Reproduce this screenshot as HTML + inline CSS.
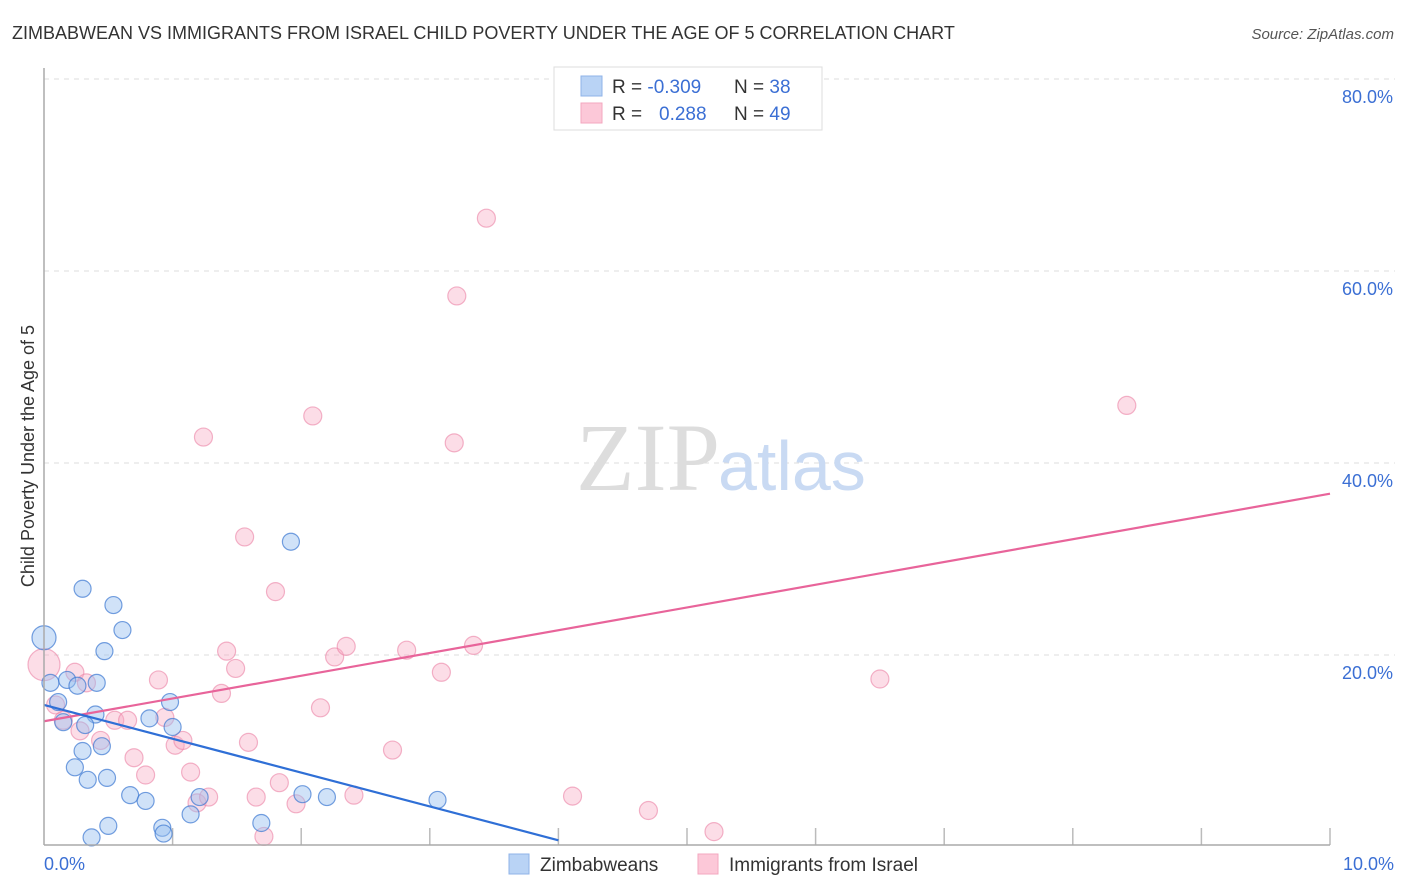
<!DOCTYPE html>
<html><head><meta charset="utf-8"><style>
body{margin:0;background:#fff;font-family:"Liberation Sans",sans-serif;}
svg{display:block}
</style></head><body>
<svg width="1406" height="892" xmlns="http://www.w3.org/2000/svg">
<text x="12" y="39" font-size="18" fill="#333">ZIMBABWEAN VS IMMIGRANTS FROM ISRAEL CHILD POVERTY UNDER THE AGE OF 5 CORRELATION CHART</text>
<text x="1394" y="39" font-size="15" fill="#555" text-anchor="end" font-style="italic">Source: ZipAtlas.com</text>
<text x="34" y="456" font-size="18" fill="#333" text-anchor="middle" transform="rotate(-90 34 456)">Child Poverty Under the Age of 5</text>
<g id="grid"></g>
<text x="720" y="490" font-size="96" fill="#ddd" text-anchor="end" font-family="Liberation Serif">ZIP</text>
<text x="718" y="490" font-size="70" fill="#c9daf3">atlas</text>
<g id="pts"></g>
<g id="lines"></g>
<line x1="44" y1="845" x2="1330" y2="845" stroke="#aaa" stroke-width="1.5"/>
<line x1="44" y1="68" x2="44" y2="845" stroke="#aaa" stroke-width="1.5"/>
<text x="44" y="870" font-size="18" fill="#3b6fd4">0.0%</text>
<text x="1394" y="870" font-size="18" fill="#3b6fd4" text-anchor="end">10.0%</text>
<g>
<rect x="554" y="67" width="268" height="63" fill="#fff" stroke="#ddd"/>
<rect x="581" y="76" width="21" height="20" fill="#b9d3f5" stroke="#8fb3e8"/>
<rect x="581" y="103" width="21" height="20" fill="#fcc8d8" stroke="#f3a7bf"/>
<text x="612" y="93" font-size="19" fill="#333">R = <tspan fill="#3b6fd4">-0.309</tspan></text>
<text x="734" y="93" font-size="19" fill="#333">N = <tspan fill="#3b6fd4">38</tspan></text>
<text x="612" y="120" font-size="19" fill="#333">R = <tspan fill="#3b6fd4" x="659">0.288</tspan></text>
<text x="734" y="120" font-size="19" fill="#333">N = <tspan fill="#3b6fd4">49</tspan></text>
</g>
<g>
<rect x="509" y="854" width="20" height="20" fill="#b9d3f5" stroke="#8fb3e8"/>
<text x="540" y="871" font-size="19" fill="#333">Zimbabweans</text>
<rect x="698" y="854" width="20" height="20" fill="#fcc8d8" stroke="#f3a7bf"/>
<text x="729" y="871" font-size="19" fill="#333">Immigrants from Israel</text>
</g>
</svg>
<script>
const yTicks=[20,40,60,80];
const yTickLabels=["20.0%","40.0%","60.0%","80.0%"];
const xTicks=[1,2,3,4,5,6,7,8,9,10];
const blueX=[0.30,0.54,0.61,0.47,0,0.05,0.18,0.26,0.41,0.11,0.15,0.40,0.32,0.30,0.45,0.24,0.34,0.49,0.67,0.79,0.98,1.00,0.82,1.21,1.14,0.92,0.93,0.50,0.37,1.69,2.01,2.20,1.92,3.06];
const blueY=[26.9,25.2,22.6,20.4,21.8,17.1,17.4,16.8,17.1,15.1,13.0,13.8,12.7,10.0,10.5,8.3,7.0,7.2,5.4,4.8,15.1,12.5,13.4,5.2,3.4,2.0,1.4,2.2,1.0,2.5,5.5,5.2,31.8,4.9];
const pinkX=[0,0.24,0.09,0.33,0.15,0.28,0.44,0.55,0.65,0.70,0.79,0.89,0.94,1.02,1.08,1.14,1.19,1.28,1.24,1.38,1.42,1.49,1.56,1.59,1.65,1.71,1.80,1.83,1.96,2.09,2.15,2.26,2.35,2.41,2.71,2.82,3.09,3.19,3.21,3.34,3.44,4.11,4.70,5.21,6.50,8.42];
const pinkY=[19.0,18.2,14.8,17.1,13.2,12.1,11.1,13.2,13.2,9.3,7.5,17.4,13.5,10.6,11.1,7.8,4.6,5.2,42.7,16.0,20.4,18.6,32.3,10.9,5.2,1.1,26.6,6.7,4.5,44.9,14.5,19.8,20.9,5.4,10.1,20.5,18.2,42.1,57.4,21.0,65.5,5.3,3.8,1.6,17.5,46.0];
const blueBig=[4];
const pinkBig=[0];
const blueTrend=[0,14.8,4.0,0.7];
const pinkTrend=[0,13.1,10,36.8];
const NS="http://www.w3.org/2000/svg";
const sx=v=>44+v*128.6;
const sy=v=>847-v*9.6;
function mk(tag,attrs,parent){const e=document.createElementNS(NS,tag);for(const k in attrs)e.setAttribute(k,attrs[k]);parent.appendChild(e);return e;}
const grid=document.getElementById('grid');
yTicks.forEach((t,i)=>{
 const l=mk('line',{x1:44,x2:1395,y1:sy(t),y2:sy(t),stroke:'#ddd','stroke-dasharray':'5,5'},grid);
 
 
 const tx=mk('text',{x:1393,y:sy(t)+24,'font-size':18,fill:'#3b6fd4','text-anchor':'end'},grid);
 tx.textContent=yTickLabels[i];
 
 
});
xTicks.forEach(t=>{
 const l=mk('line',{x1:sx(t),x2:sx(t),y1:828,y2:845,stroke:'#bbb','stroke-width':1.5},grid);
 
 
});
const pts=document.getElementById('pts');
pinkX.forEach((x,i)=>{
 const c=mk('circle',{cx:sx(x),cy:sy(pinkY[i]),r:pinkBig.includes(i)?16:9,fill:'rgba(248,170,195,0.4)',stroke:'rgba(235,130,165,0.6)','stroke-width':1.2},pts);
 
 
});
blueX.forEach((x,i)=>{
 const c=mk('circle',{cx:sx(x),cy:sy(blueY[i]),r:blueBig.includes(i)?12:8.5,fill:'rgba(150,190,240,0.45)',stroke:'rgba(60,120,210,0.7)','stroke-width':1.2},pts);
 
 
});
const lines=document.getElementById('lines');
const pl=mk('line',{x1:sx(pinkTrend[0]),y1:sy(pinkTrend[1]),x2:sx(pinkTrend[2]),y2:sy(pinkTrend[3]),stroke:'#e8649a','stroke-width':2.2},lines);


const bl=mk('line',{x1:sx(blueTrend[0]),y1:sy(blueTrend[1]),x2:sx(blueTrend[2]),y2:sy(blueTrend[3]),stroke:'#2f6fd6','stroke-width':2.2},lines);


</script>
</body></html>
